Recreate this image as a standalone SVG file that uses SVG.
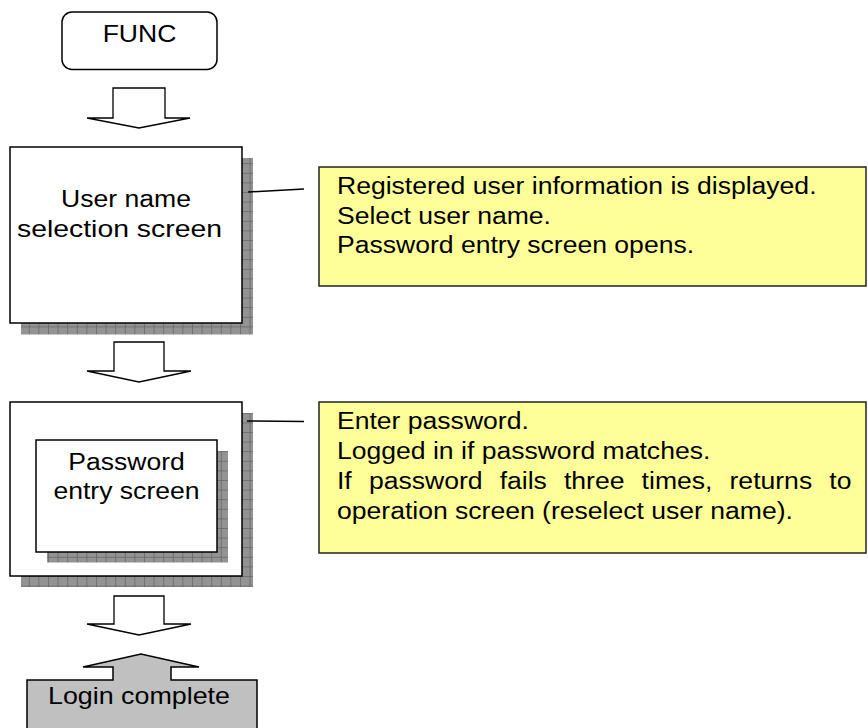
<svg xmlns="http://www.w3.org/2000/svg" width="868" height="728" viewBox="0 0 868 728">
  <defs>
    <!-- hatched drop-shadow fill -->
    <pattern id="shadowGrid" patternUnits="userSpaceOnUse" width="9.6" height="9.6">
      <rect width="9.6" height="9.6" fill="#939393"/>
      <path d="M0 0H9.6M0 0V9.6" stroke="#505050" stroke-width="1"/>
    </pattern>
    <style>
      .box { fill: #ffffff; stroke: #000000; stroke-width: 1.5; }
      .shadow { fill: url(#shadowGrid); }
      .note { fill: #ffff99; stroke: #222222; stroke-width: 1.5; }
      .flow { fill: #ffffff; stroke: #000000; stroke-width: 1.3; stroke-linejoin: miter; }
      .lead { fill: none; stroke: #000000; stroke-width: 1.5; }
      .done { fill: #c0c0c0; stroke: #000000; stroke-width: 1.5; }
      text { font-family: "Liberation Sans", Arial, "DejaVu Sans", sans-serif; font-size: 23.4px; fill: #000000; }
      .c { text-anchor: middle; }
    </style>
  </defs>
  <rect width="868" height="728" fill="#ffffff"/>

  <!-- start key -->
  <g id="n-func">
    <rect class="box" x="62" y="12" width="155" height="57.5" rx="10" ry="10"/>
    <text class="c" transform="translate(139.5,42) scale(1.135,1)">FUNC</text>
  </g>

  <!-- user name selection screen -->
  <g id="n-user-select">
    <rect class="shadow" x="21" y="158" width="232" height="176.5"/>
    <rect class="box" x="10" y="147" width="232" height="176"/>
    <text class="c" transform="translate(126,207) scale(1.135,1)">User name</text>
    <text x="17" y="236.5" textLength="205" lengthAdjust="spacingAndGlyphs">selection screen</text>
  </g>

  <!-- password entry screen (nested) -->
  <g id="n-password">
    <rect class="shadow" x="21" y="413" width="232" height="174"/>
    <rect class="box" x="10" y="402" width="232" height="174"/>
    <rect class="shadow" x="47" y="451" width="181" height="111.5"/>
    <rect class="box" x="36" y="440" width="181" height="112"/>
    <text class="c" transform="translate(126.5,469.5) scale(1.135,1)">Password</text>
    <text class="c" transform="translate(126.5,499) scale(1.135,1)">entry screen</text>
  </g>

  <!-- login complete -->
  <g id="n-login">
    <path class="done" d="M27 740V680H113V667H83L141 654L199 667H171V680H257V740"/>
    <text x="48" y="703.5" textLength="182" lengthAdjust="spacingAndGlyphs">Login complete</text>
  </g>

  <!-- notes -->
  <g id="n-note-user">
    <rect class="note" x="319" y="167" width="547" height="119"/>
    <text transform="translate(337,194) scale(1.135,1)">Registered user information is displayed.</text>
    <text transform="translate(337,223.5) scale(1.135,1)">Select user name.</text>
    <text transform="translate(337,253) scale(1.135,1)">Password entry screen opens.</text>
  </g>

  <g id="n-note-password">
    <rect class="note" x="319" y="402" width="547" height="151"/>
    <text transform="translate(337,429) scale(1.135,1)">Enter password.</text>
    <text transform="translate(337,459) scale(1.135,1)">Logged in if password matches.</text>
    <text transform="translate(337,489) scale(1.135,1)" word-spacing="8.6">If password fails three times, returns to</text>
    <text transform="translate(337,518.5) scale(1.135,1)">operation screen (reselect user name).</text>
  </g>

  <!-- connectors: flow arrows and note leaders -->
  <g id="connectors">
    <polygon class="flow" points="113,88 165,88 165,118 190,118 139,128 87,118 113,118"/>
    <polygon class="flow" points="114,342 164,342 164,371 191,371 139,382 87,371 114,371"/>
    <polygon class="flow" points="114,596 164,596 164,624 191,624 139,635 87,624 114,624"/>
    <path class="lead" d="M248 192L304 189"/>
    <path class="lead" d="M247 421L304 421.5"/>
  </g>
</svg>
